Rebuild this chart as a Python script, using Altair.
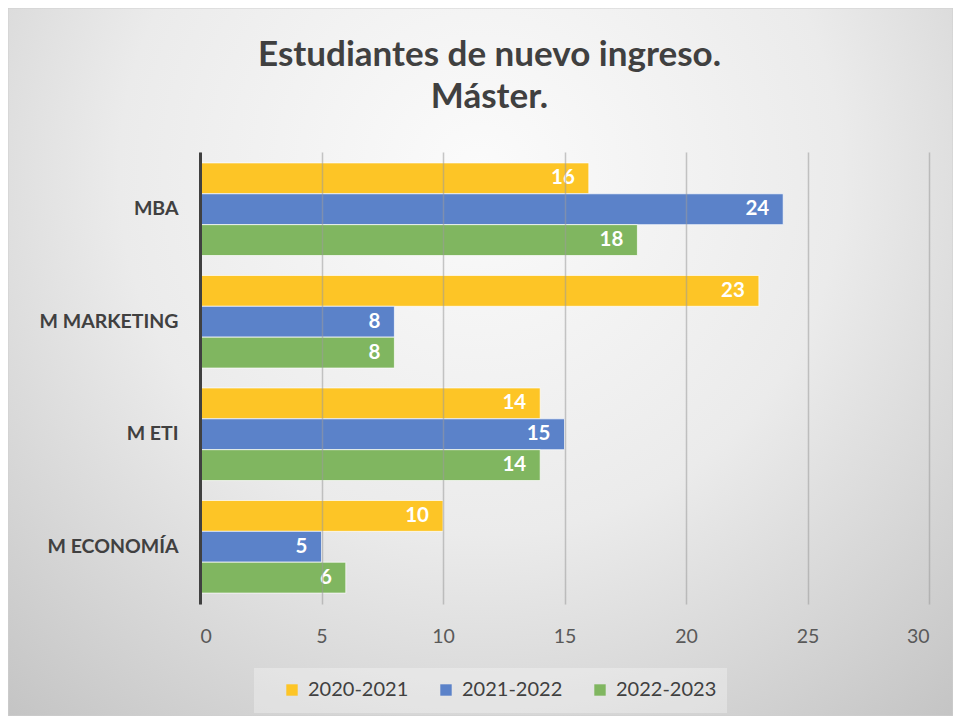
import altair as alt
import pandas as pd

categories = ["MBA", "M MARKETING", "M ETI", "M ECONOMÍA"]
series = ["2020-2021", "2021-2022", "2022-2023"]
v_2020_2021 = [16, 23, 14, 10]
v_2021_2022 = [24, 8, 15, 5]
v_2022_2023 = [18, 8, 14, 6]
colors = ["#FDC526", "#5B82C9", "#80B660"]
title_lines = ["Estudiantes de nuevo ingreso.", "Máster."]
x_ticks = [0, 5, 10, 15, 20, 25, 30]

rows = []
for s, vals in zip(series, [v_2020_2021, v_2021_2022, v_2022_2023]):
    for c, v in zip(categories, vals):
        rows.append({"cat": c, "serie": s, "val": v})
df = pd.DataFrame(rows)

FONT = "Lato"
W, H = 729, 452
PL, PT, PR, PB = 192, 144, 24, 112

one = pd.DataFrame({"a": [0]})

bg = alt.Chart(one).mark_rect(
    fill=alt.RadialGradient(
        gradient="radial",
        stops=[alt.GradientStop(offset=0, color="#fbfbfb"),
               alt.GradientStop(offset=0.45, color="#ebebeb"),
               alt.GradientStop(offset=1, color="#bbbbbb")],
        x1=0.5, y1=0.3, r1=0, x2=0.5, y2=0.3, r2=0.85),
    stroke="#cfcfcf", strokeWidth=1,
).encode(x=alt.value(-PL), x2=alt.value(W + PR), y=alt.value(-PT), y2=alt.value(H + PB))

legbox = alt.Chart(one).mark_rect(fill="#ffffff", fillOpacity=0.3).encode(
    x=alt.value(254 - 200), x2=alt.value(727 - 200), y=alt.value(668 - 152), y2=alt.value(713 - 152)
)

tdf = pd.DataFrame({"t": title_lines, "yy": [-97, -55]})
title = alt.Chart(tdf).mark_text(
    font=FONT, fontSize=35, fontWeight="bold", color="#404040", align="center", baseline="middle"
).encode(text="t:N", x=alt.value(289.5), y=alt.Y("yy:Q", scale=None))

ysort = categories
bars = alt.Chart(df).mark_bar(stroke="#ffffff", strokeOpacity=0.7, strokeWidth=1).encode(
    y=alt.Y("cat:N", sort=ysort, title=None,
            scale=alt.Scale(paddingInner=0.177, paddingOuter=0.097),
            axis=alt.Axis(labelFont=FONT, labelFontSize=19.5, labelFontWeight="bold", labelColor="#404040",
                          labelPadding=22, ticks=False, domainColor="#404040", domainWidth=3,
                          grid=False, zindex=2)),
    yOffset=alt.YOffset("serie:N", sort=series, scale=alt.Scale(paddingInner=0.0, paddingOuter=0)),
    x=alt.X("val:Q", title=None, scale=alt.Scale(domain=[0, 30], nice=False),
            axis=alt.Axis(values=x_ticks, labelFont=FONT, labelFontSize=19.5, labelColor="#595959",
                          labelPadding=23, ticks=False, domain=False, grid=True,
                          gridColor="#9a9a9a", gridOpacity=0.55, gridWidth=1.5, zindex=1)),
    color=alt.Color("serie:N", sort=series, scale=alt.Scale(domain=series, range=colors),
                    legend=alt.Legend(title=None, orient="none", direction="horizontal",
                                      legendX=82, legendY=528, padding=0,
                                      symbolType="square", symbolSize=130, symbolOpacity=1,
                                      symbolStrokeWidth=0,
                                      labelFont=FONT, labelFontSize=20, labelColor="#404040",
                                      labelOffset=6, columnPadding=27)),
)

labels = alt.Chart(df).mark_text(
    font=FONT, fontSize=20.5, fontWeight="bold", color="white", align="right", baseline="middle", dx=-14
).encode(
    y=alt.Y("cat:N", sort=ysort),
    yOffset=alt.YOffset("serie:N", sort=series),
    x=alt.X("val:Q"),
    text=alt.Text("val:Q"),
)

chart = alt.layer(bg, legbox, title, bars, labels).properties(
    width=W, height=H,
    padding={"left": PL, "top": PT, "right": PR, "bottom": PB},
    autosize=alt.AutoSizeParams(type="none"),
).configure_view(stroke=None).configure(background="white")

chart.save("out.html", embed_options={"renderer": "svg", "actions": False})
